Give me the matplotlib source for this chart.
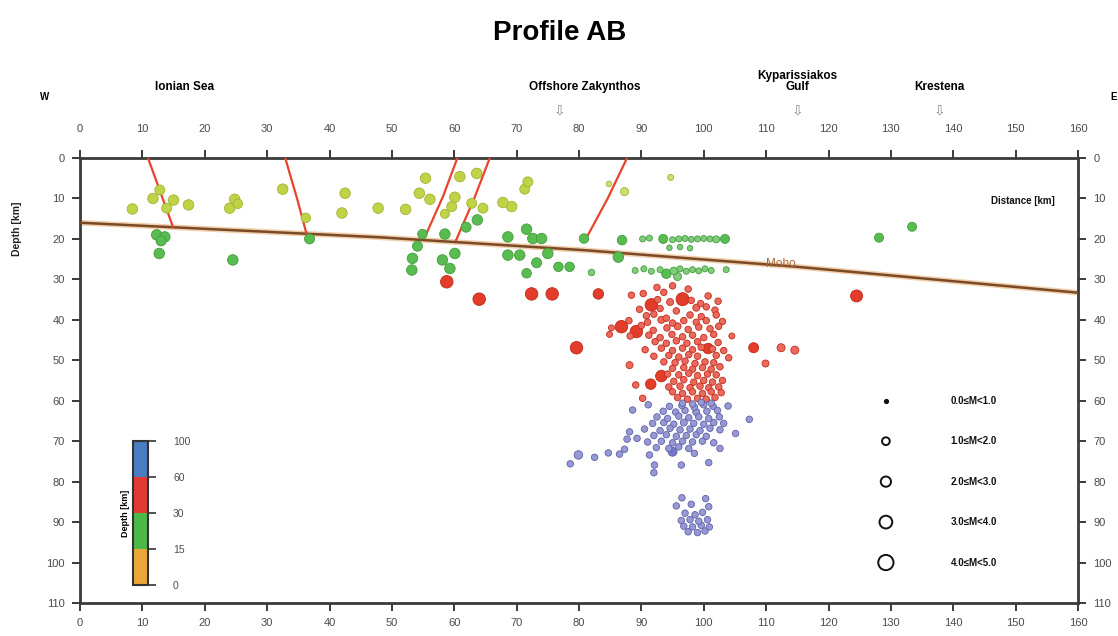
import numpy as np
import matplotlib
matplotlib.use("Agg")
import matplotlib.pyplot as plt
from matplotlib.colors import ListedColormap, BoundaryNorm, to_rgb
import matplotlib.colorbar as mcolorbar

plt.rcParams['font.family'] = ['Liberation Sans', 'DejaVu Sans']

# ---------------------------------------------------------------- data
# Crustal events (depth < 30 km): distance along profile [km], depth [km], magnitude
crust_km = [8.4, 11.7, 12.8, 15.0, 13.9, 17.4, 24.0, 24.8, 25.3, 32.5, 36.2, 42.5, 42.0, 47.8,
            55.4, 54.4, 56.1, 52.2, 60.9, 63.6, 60.1, 59.6, 58.5, 62.8, 64.6, 71.8, 71.3, 67.8,
            69.2, 84.8, 87.3, 94.7,
            12.3, 13.6, 13.0, 12.7, 24.5, 36.8,
            63.7, 61.9, 58.5, 54.9, 54.1, 53.3, 53.2, 58.1, 60.1, 59.3, 71.6, 68.6, 72.6, 74.0,
            68.6, 70.5, 75.0, 73.2, 71.6, 76.7, 78.5, 80.8, 82.0, 86.9, 86.3, 128.1, 133.4,
            90.2, 91.3, 93.5, 95.0, 96.0, 97.0, 98.0, 99.0, 100.0, 101.0, 102.0, 103.4,
            94.5, 96.2, 97.8,
            89.0, 90.4, 91.6, 93.0, 94.0, 95.2, 96.2, 97.2, 98.2, 99.2, 100.2, 101.2, 103.6, 95.8]
crust_depth = [12.6, 10.0, 7.9, 10.4, 12.4, 11.6, 12.4, 10.2, 11.3, 7.7, 14.8, 8.7, 13.6, 12.4,
               5.0, 8.7, 10.2, 12.7, 4.6, 3.8, 9.7, 12.0, 13.8, 11.2, 12.4, 5.9, 7.7, 11.0,
               12.0, 6.4, 8.3, 4.8,
               19.0, 19.5, 20.5, 23.6, 25.2, 20.0,
               15.3, 17.1, 18.8, 18.8, 21.8, 24.8, 27.7, 25.2, 23.6, 27.3, 17.6, 19.5, 19.9, 19.9,
               24.0, 24.0, 23.6, 25.9, 28.5, 26.9, 26.9, 19.9, 28.3, 20.3, 24.5, 19.7, 17.0,
               20.0, 19.8, 20.0, 20.2, 20.0, 19.9, 20.1, 20.0, 19.9, 20.0, 20.1, 20.0,
               22.2, 22.0, 22.3,
               27.8, 27.4, 28.0, 27.6, 28.6, 27.9, 27.4, 28.0, 27.6, 27.9, 27.4, 27.8, 27.6, 29.3]
crust_mag = [2.6, 2.6, 2.4, 2.6, 2.4, 2.6, 2.6, 2.6, 2.2, 2.6, 2.2, 2.6, 2.6, 2.6,
             2.6, 2.6, 2.6, 2.6, 2.6, 2.6, 2.6, 2.4, 2.0, 2.4, 2.4, 2.4, 2.4, 2.6,
             2.6, 0.6, 1.6, 0.8,
             2.6, 2.6, 2.4, 2.6, 2.6, 2.4,
             2.6, 2.4, 2.6, 2.2, 2.4, 2.6, 2.6, 2.6, 2.6, 2.6, 2.6, 2.6, 2.6, 2.6,
             2.6, 2.6, 2.6, 2.4, 2.2, 2.2, 2.2, 2.2, 1.0, 2.2, 2.6, 2.0, 2.0,
             0.8, 0.8, 2.0, 0.8, 0.8, 0.8, 0.8, 0.8, 0.8, 0.8, 1.2, 2.0,
             0.6, 0.6, 0.6,
             0.8, 0.8, 0.8, 0.8, 2.2, 1.4, 0.8, 0.8, 0.8, 0.8, 0.8, 0.8, 0.8, 1.6]

# Intermediate-depth events (30-60 km)
mid_km = [58.8, 64.0, 72.4, 75.7, 83.1, 91.6, 96.6, 124.5, 79.6, 86.8, 89.2, 100.7, 108.0,
          112.4, 114.6, 109.9, 93.2, 91.5,
          92.5, 95.0, 97.5,
          88.4, 90.3, 93.6, 100.7,
          92.6, 94.6, 98.0, 99.5, 102.3,
          89.7, 93.0, 95.6, 98.8, 100.4, 101.8,
          90.8, 92.0, 94.0, 97.8, 99.6, 102.0,
          88.0, 91.0, 93.2, 95.0, 96.8, 98.8, 100.4, 103.0,
          85.2, 90.0, 91.9, 94.1, 95.8, 97.5, 99.2, 101.0, 102.4,
          88.2, 91.2, 93.0, 94.9, 96.6, 98.2, 100.0, 101.6, 104.5,
          84.9, 92.2, 94.0, 95.6, 97.3, 99.0, 102.3,
          90.6, 93.2, 95.0, 96.6, 98.2, 99.6, 101.4, 103.2,
          92.0, 94.4, 96.0, 97.6, 99.0, 102.0, 104.0,
          93.6, 95.4, 97.0, 98.6, 100.2, 101.6,
          88.1, 95.0, 96.8, 98.2, 99.8, 101.2, 102.6,
          94.2, 96.0, 97.6, 99.0, 100.6, 102.0,
          95.2, 96.8, 98.4, 100.0, 101.4, 103.0,
          89.1, 94.4, 96.2, 97.8, 99.4, 100.8, 102.4,
          95.0, 96.6, 98.2, 99.8, 101.2, 102.8,
          95.8, 97.4, 99.0, 100.4, 101.8,
          90.2, 96.6, 98.2, 99.6, 101.2]
mid_depth = [30.6, 34.9, 33.6, 33.6, 33.6, 36.3, 34.9, 34.1, 46.9, 41.7, 42.9, 47.1, 46.9,
             46.9, 47.5, 50.8, 53.9, 55.9,
             32.0, 31.6, 32.4,
             33.9, 33.5, 33.2, 34.1,
             35.0, 35.6, 35.2, 36.0, 35.4,
             37.4, 37.2, 37.8, 37.0, 36.8, 37.6,
             39.0, 38.6, 39.6, 38.8, 39.2, 38.8,
             40.2, 40.6, 40.0, 40.8, 40.2, 40.6, 40.2, 40.4,
             42.0, 41.4, 42.6, 42.0, 41.6, 42.4, 41.8, 42.2, 41.6,
             44.0, 43.8, 44.4, 43.6, 44.2, 43.8, 44.4, 43.6, 44.0,
             43.6, 45.4, 45.8, 45.2, 45.8, 45.4, 45.6,
             47.4, 47.0, 47.6, 47.0, 47.4, 46.8, 47.2, 47.6,
             49.0, 48.8, 49.2, 48.6, 49.0, 48.8, 49.4,
             50.4, 50.6, 50.2, 50.8, 50.4, 50.6,
             51.2, 52.0, 51.8, 52.2, 51.8, 52.2, 51.6,
             53.4, 53.6, 53.2, 53.8, 53.4, 53.6,
             55.2, 54.8, 55.4, 55.0, 55.4, 55.0,
             56.1, 56.6, 56.4, 56.8, 56.4, 56.8, 56.6,
             57.8, 58.2, 57.8, 58.2, 57.8, 58.0,
             59.2, 59.6, 59.4, 59.6, 59.2,
             59.4, 60.6, 60.8, 60.4, 60.6]
mid_mag = [3.4, 3.4, 3.4, 3.4, 2.6, 3.4, 3.6, 3.2, 3.4, 3.4, 3.4, 2.6, 2.4,
           1.6, 1.6, 1.2, 3.0, 2.6,
           1.0, 1.0, 1.0,
           1.0, 1.0, 1.0, 1.0,
           1.0, 1.2, 1.0, 1.0, 1.0,
           1.0, 1.0, 1.0, 1.2, 1.0, 1.0,
           1.0, 1.0, 1.0, 1.0, 1.0, 1.0,
           1.0, 1.0, 1.2, 1.0, 1.0, 1.0, 1.0, 1.0,
           0.8, 1.0, 1.0, 1.0, 1.2, 1.0, 1.0, 1.0, 1.0,
           1.0, 1.0, 1.0, 1.0, 1.0, 1.0, 1.0, 1.0, 0.8,
           0.8, 1.0, 1.0, 1.0, 1.0, 1.0, 1.0,
           1.0, 1.0, 1.0, 1.0, 1.0, 1.0, 1.0, 1.0,
           1.0, 1.0, 1.0, 1.0, 1.0, 1.0, 1.0,
           1.0, 1.0, 1.0, 1.0, 1.0, 1.0,
           1.2, 1.0, 1.0, 1.0, 1.0, 1.0, 1.0,
           1.0, 1.0, 1.0, 1.0, 1.0, 1.0,
           1.0, 1.0, 1.0, 1.0, 1.0, 1.0,
           1.0, 1.0, 1.0, 1.0, 1.0, 1.0, 1.0,
           1.0, 1.0, 1.0, 1.0, 1.0, 1.0,
           1.0, 1.0, 1.0, 1.0, 1.0,
           1.0, 1.0, 1.0, 1.0, 1.0]

# Deep events (> 60 km)
deep_km = [91.1, 94.5, 96.5, 98.5, 100.0, 101.5, 103.9,
           88.6, 93.5, 95.5, 97.0, 98.8, 100.5, 102.2,
           92.5, 94.2, 96.0, 97.6, 99.2, 100.8, 102.5, 107.3,
           91.8, 93.6, 95.2, 96.8, 98.4, 100.0, 101.6, 103.2,
           88.1, 90.5, 93.0, 94.6, 96.2, 97.8, 99.4, 101.0, 102.6,
           89.3, 92.0, 94.0, 95.6, 97.2, 98.8, 100.4, 105.1,
           87.7, 91.0, 93.2, 95.0, 96.6, 98.2, 99.8, 101.6,
           92.4, 94.4, 96.0, 97.6, 102.6,
           79.9, 82.5, 84.7, 86.5, 87.3, 91.3, 95.0, 98.5,
           78.6, 92.1, 96.4, 100.8, 92.0,
           96.5, 100.3, 95.6, 98.0, 100.8, 97.0, 98.6, 99.8,
           96.4, 97.8, 99.2, 100.6, 96.8, 98.2, 99.6, 100.9, 97.5, 99.0, 100.2]
deep_depth = [61.0, 61.4, 61.2, 61.6, 61.0, 61.4, 61.3,
              62.3, 62.6, 62.8, 62.4, 62.8, 62.6, 62.4,
              64.0, 64.4, 63.8, 64.2, 64.0, 64.4, 64.0, 64.6,
              65.6, 65.4, 65.8, 65.4, 65.6, 65.8, 65.4, 65.6,
              67.7, 67.0, 67.4, 66.8, 67.2, 67.0, 67.4, 66.8, 67.2,
              69.3, 68.6, 68.4, 68.8, 68.6, 68.4, 68.8, 68.1,
              69.5, 70.2, 70.0, 70.4, 70.0, 70.2, 70.0, 70.4,
              71.6, 71.8, 71.4, 71.8, 71.8,
              73.4, 74.0, 72.9, 73.2, 72.0, 73.4, 72.6, 73.0,
              75.6, 75.9, 75.9, 75.3, 77.8,
              84.0, 84.2, 86.0, 85.6, 86.2, 87.8, 88.2, 87.6,
              89.6, 89.4, 89.8, 89.4, 91.0, 91.2, 90.8, 91.2, 92.4, 92.6, 92.2]
deep_mag = [1.0, 1.0, 1.0, 1.0, 1.0, 1.0, 1.0,
            1.0, 1.0, 1.0, 1.0, 1.2, 1.0, 1.0,
            1.0, 1.0, 1.0, 1.0, 1.0, 1.0, 1.0, 1.0,
            1.0, 1.0, 1.0, 1.2, 1.0, 1.0, 1.0, 1.0,
            1.0, 1.0, 1.0, 1.0, 1.0, 1.0, 1.0, 1.0, 1.0,
            1.0, 1.0, 1.0, 1.0, 1.0, 1.0, 1.0, 1.0,
            1.0, 1.0, 1.0, 1.0, 1.0, 1.0, 1.0, 1.0,
            1.0, 1.0, 1.0, 1.0, 1.0,
            1.8, 1.0, 1.0, 1.0, 1.0, 1.0, 2.0, 1.0,
            1.0, 1.0, 1.0, 1.0, 1.0,
            1.0, 1.0, 1.0, 1.0, 1.0, 1.0, 1.0, 1.0,
            1.0, 1.0, 1.0, 1.0, 1.0, 1.0, 1.0, 1.0, 1.0, 1.0, 1.0]

# Moho interface along the profile
moho_km = [0, 48, 81, 115, 160]
moho_depth = [16.0, 19.6, 22.8, 26.9, 33.3]

# Faults (surface trace to lower tip)
fault_km = [[10.9, 12.9, 14.9], [32.9, 34.8, 36.5], [60.5, 58.2, 55.3],
            [65.7, 63.2, 60.3], [87.7, 84.6, 81.0]]
fault_depth = [[0, 8.5, 17.0], [0, 10.0, 19.8], [0, 9.5, 19.5],
               [0, 10.0, 20.3], [0, 10.0, 20.3]]

# Place names along the profile
place_names = ["Ionian Sea", "Offshore Zakynthos", "Kyparissiakos\nGulf", "Krestena"]
place_km = [16.8, 80.9, 115.0, 137.8]
marker_km = [76.9, 115.0, 137.8]

# Depth classes and colours
depth_bounds = [0, 15, 30, 60, 100]
depth_tick_labels = ["0", "15", "30", "60", "100"]
point_colors = ["#bdd13d", "#4fb847", "#e2321f", "#6f71c4"]
bar_colors = ["#eba83a", "#4cb848", "#e23a33", "#4a7cc0"]

# Magnitude legend
legend_mags = [0.5, 1.5, 2.5, 3.5, 4.5]
legend_labels = ["0.0\u2264M<1.0", "1.0\u2264M<2.0", "2.0\u2264M<3.0",
                 "3.0\u2264M<4.0", "4.0\u2264M<5.0"]
legend_depths = [60, 70, 80, 90, 100]

x_ticks = list(range(0, 161, 10))
y_ticks = list(range(0, 111, 10))

# ---------------------------------------------------------------- helpers
W, H = 1118, 636


def size_pt2(mag):
    d_px = 4.0 + 2.5 * np.asarray(mag, dtype=float)
    return (d_px * 72.0 / 100.0) ** 2


def mix(c, other, t):
    c = np.array(to_rgb(c))
    o = np.array(to_rgb(other))
    return tuple(c * (1 - t) + o * t)


def event_colors(depths, mags):
    faces, edges = [], []
    for d, m in zip(depths, mags):
        idx = int(np.searchsorted(depth_bounds[1:], d, side='right'))
        idx = min(idx, len(point_colors) - 1)
        base = point_colors[idx]
        faces.append(mix(base, "white", 0.28) if m < 2 else mix(base, "white", 0.05))
        edges.append(mix(base, "black", 0.15))
    return faces, edges


# ---------------------------------------------------------------- figure
fig = plt.figure(figsize=(W / 100, H / 100), dpi=100)
ax = fig.add_axes([80 / W, 33 / H, 998 / W, 445 / H])
ax.set_xlim(0, 160)
ax.set_ylim(110, 0)

spine_col = "#3a3a3a"
for s in ax.spines.values():
    s.set_color(spine_col)
    s.set_linewidth(2.0)

tick_style = dict(direction='out', length=6, width=1.4, color=spine_col,
                  labelcolor="#4a4a4a", labelsize=8)
ax.set_xticks(x_ticks)
ax.set_yticks(y_ticks)
ax.tick_params(axis='both', which='both', **tick_style)
ax.tick_params(axis='x', top=False, labeltop=False, bottom=True, labelbottom=True, pad=5)
ax.tick_params(axis='y', left=True, labelleft=True, right=True, labelright=True, pad=5)

# Distance scale along the top edge, with its labels set higher above the frame
top = ax.secondary_xaxis('top')
top.set_xticks(x_ticks)
top.tick_params(**tick_style)
top.tick_params(pad=11)
top.spines['top'].set_visible(False)

ax.set_ylabel("Depth [km]", fontsize=7.5, fontweight='bold', color="#222222", labelpad=4)
ax.yaxis.set_label_coords(-0.058, 0.84)

# Moho
ax.plot(moho_km, moho_depth, color="#e6a86a", lw=4.0, alpha=0.55, solid_capstyle='butt', zorder=2)
ax.plot(moho_km, moho_depth, color="#7a4a26", lw=1.8, solid_capstyle='butt', zorder=3)
ax.text(112.3, 26.2, "Moho", color="#a96a38", fontsize=8.5, ha='center', va='center', zorder=4)

# Faults
for fx, fz in zip(fault_km, fault_depth):
    ax.plot(fx, fz, color="#e8432b", lw=1.6, zorder=3)

# Earthquakes
all_km = crust_km + mid_km + deep_km
all_depth = crust_depth + mid_depth + deep_depth
all_mag = crust_mag + mid_mag + deep_mag
order = np.argsort(-np.asarray(all_mag))
faces, edges = event_colors(all_depth, all_mag)
ax.scatter(np.asarray(all_km)[order], np.asarray(all_depth)[order],
           s=size_pt2(np.asarray(all_mag)[order]),
           c=[faces[i] for i in order], edgecolors=[edges[i] for i in order],
           linewidths=0.6, zorder=5)

# Magnitude legend
ax.scatter([129.2] * len(legend_mags[1:]), legend_depths[1:], s=size_pt2(legend_mags[1:]),
           facecolors="white", edgecolors="#111111", linewidths=1.4, zorder=6)
ax.scatter([129.2], legend_depths[:1], s=size_pt2(legend_mags[:1]) * 0.6,
           facecolors="#111111", edgecolors="#111111", linewidths=0.8, zorder=6)
for lab, dep in zip(legend_labels, legend_depths):
    ax.text(139.6, dep, lab, fontsize=7, fontweight='bold', ha='left', va='center', color="#111111")

ax.text(156.2, 10.7, "Distance [km]", fontsize=7, fontweight='bold', ha='right', va='center',
        color="#111111")

# Place names and location markers above the profile
xtrans = ax.get_xaxis_transform()
for name, km in zip(place_names, place_km):
    if "\n" in name:
        ax.text(km, 1.172, name, transform=xtrans, ha='center', va='center', fontsize=8.5,
                fontweight='bold', linespacing=0.85, clip_on=False)
    else:
        ax.text(km, 1.16, name, transform=xtrans, ha='center', va='center', fontsize=8.5,
                fontweight='bold', clip_on=False)
for km in marker_km:
    ax.text(km, 1.106, "\u21e9", transform=xtrans, ha='center', va='center', fontsize=10,
            color="#8a8a8a", family=['DejaVu Sans'], clip_on=False)

fig.text(45 / W, 1 - 97 / H, "W", fontsize=7, fontweight='bold', ha='center', va='center')
fig.text(1110 / W, 1 - 97 / H, "E", fontsize=7, fontweight='bold', ha='left', va='center')
fig.text(560 / W, 1 - 33 / H, "Profile AB", fontsize=20, fontweight='bold', ha='center', va='center')

# Depth colour bar
cax = fig.add_axes([133 / W, (H - 585) / H, 15 / W, 144 / H])
cmap = ListedColormap(bar_colors)
norm = BoundaryNorm(depth_bounds, cmap.N)
cb = mcolorbar.ColorbarBase(cax, cmap=cmap, norm=norm, boundaries=depth_bounds,
                            spacing='uniform', ticks=depth_bounds, orientation='vertical')
cb.set_ticklabels(depth_tick_labels)
cb.outline.set_edgecolor("#333333")
cb.outline.set_linewidth(1.5)
cax.tick_params(length=6, width=1.2, color="#333333", labelsize=7.5, labelcolor="#4a4a4a", pad=12)
cax.set_ylabel("Depth [km]", fontsize=6.5, fontweight='bold', labelpad=2)
cax.yaxis.set_label_position('left')

fig.savefig("out.png", dpi=100, facecolor="white")
